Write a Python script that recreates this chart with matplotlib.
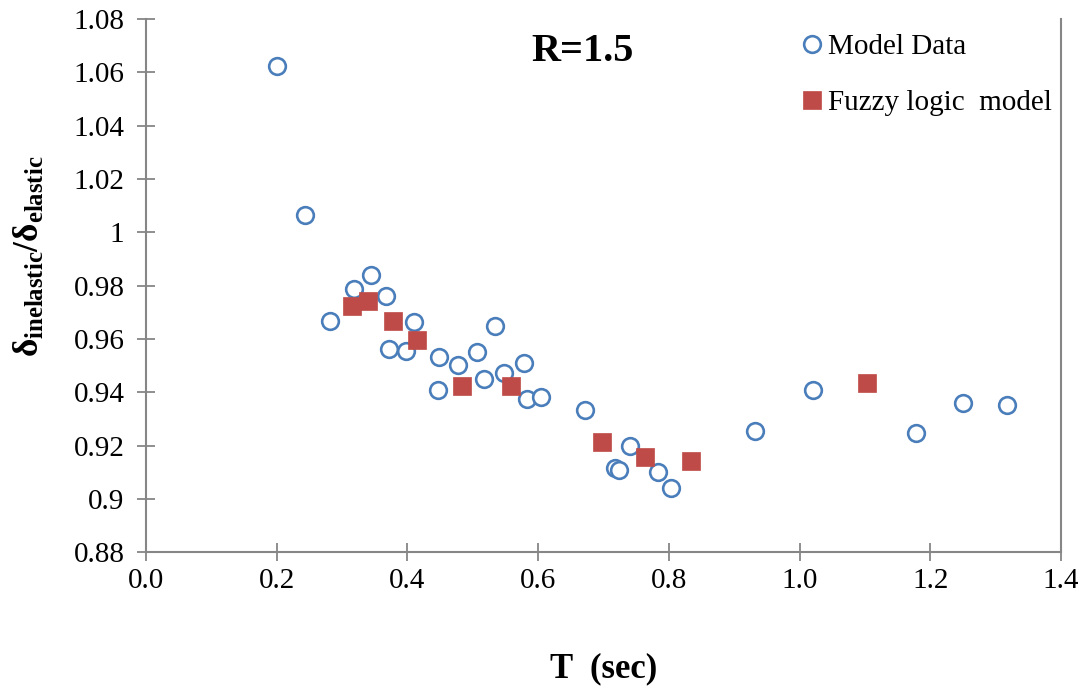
import matplotlib
matplotlib.use("Agg")
import matplotlib.pyplot as plt

plt.rcParams['font.family'] = ['Liberation Serif', 'DejaVu Serif']
plt.rcParams['mathtext.fontset'] = 'custom'
plt.rcParams['mathtext.rm'] = 'Liberation Serif:bold'
plt.rcParams['mathtext.it'] = 'Liberation Serif:bold'
plt.rcParams['mathtext.bf'] = 'Liberation Serif:bold'

# Model data
model_T = [0.200, 0.244, 0.281, 0.318, 0.345, 0.367, 0.372, 0.398, 0.410,
           0.448, 0.447, 0.478, 0.506, 0.517, 0.534, 0.548, 0.578, 0.583,
           0.605, 0.672, 0.718, 0.723, 0.741, 0.784, 0.804, 0.932, 1.021,
           1.178, 1.250, 1.318]
model_ratio = [1.0624, 1.0065, 0.9668, 0.9788, 0.9841, 0.9760, 0.9562, 0.9556, 0.9662,
               0.9534, 0.9408, 0.9503, 0.9551, 0.9449, 0.9647, 0.9473, 0.9509, 0.9376,
               0.9384, 0.9332, 0.9116, 0.9108, 0.9198, 0.9101, 0.9041, 0.9255, 0.9409,
               0.9247, 0.9360, 0.9353]

# Fuzzy logic model
fuzzy_T = [0.316, 0.339, 0.378, 0.414, 0.484, 0.559, 0.697, 0.763, 0.834, 1.103]
fuzzy_ratio = [0.9725, 0.9744, 0.9668, 0.9597, 0.9423, 0.9422, 0.9214, 0.9157, 0.9143, 0.9434]

x_ticks = [0.0, 0.2, 0.4, 0.6, 0.8, 1.0, 1.2, 1.4]
x_ticklabels = ['0.0', '0.2', '0.4', '0.6', '0.8', '1.0', '1.2', '1.4']
y_ticks = [0.88, 0.90, 0.92, 0.94, 0.96, 0.98, 1.00, 1.02, 1.04, 1.06, 1.08]
y_ticklabels = ['0.88', '0.9', '0.92', '0.94', '0.96', '0.98', '1', '1.02', '1.04', '1.06', '1.08']

fig = plt.figure(figsize=(10.89, 6.89), dpi=100)
ax = fig.add_axes([0.1340, 0.1984, 0.8403, 0.774])

blue = '#4a7ebb'
red = '#be4b48'
ax.plot(model_T, model_ratio, linestyle='none', marker='o', markersize=12,
        markerfacecolor='white', markeredgecolor=blue, markeredgewidth=1.9,
        label='Model Data', zorder=3)
ax.plot(fuzzy_T, fuzzy_ratio, linestyle='none', marker='s', markersize=13,
        markerfacecolor=red, markeredgecolor=red, markeredgewidth=0.5,
        label='Fuzzy logic  model', zorder=4)

ax.set_xlim(0, 1.4)
ax.set_ylim(0.88, 1.08)
ax.set_xticks(x_ticks)
ax.set_xticklabels(x_ticklabels)
ax.set_yticks(y_ticks)
ax.set_yticklabels(y_ticklabels)

gray = '#868686'
for s in ['left', 'bottom', 'right', 'top']:
    ax.spines[s].set_color(gray)
    ax.spines[s].set_linewidth(1.5)
ax.spines['top'].set_visible(False)
ax.tick_params(axis='both', direction='inout', length=13, width=1.3, color=gray,
               labelsize=21, labelcolor='black')
ax.tick_params(axis='x', pad=5)
ax.tick_params(axis='y', pad=9)

ax.set_xlabel('T  (sec)', fontsize=25, fontweight='bold')
ax.xaxis.set_label_coords(0.5, -0.187)
ax.set_ylabel(r'$\delta_{\rm inelastic}/\delta_{\rm elastic}$', fontsize=25.5)
ax.yaxis.set_label_coords(-0.108, 0.555)

ax.text(0.477, 0.940, 'R=1.5', transform=ax.transAxes, fontsize=29,
        fontweight='bold', ha='center', va='center')

leg = ax.legend(loc='upper left', bbox_to_anchor=(0.6995, 0.994), frameon=False,
                fontsize=21, labelspacing=1.0, handletextpad=0.05,
                handlelength=1.0, borderaxespad=0.0)

fig.savefig('out.png', dpi=100)
